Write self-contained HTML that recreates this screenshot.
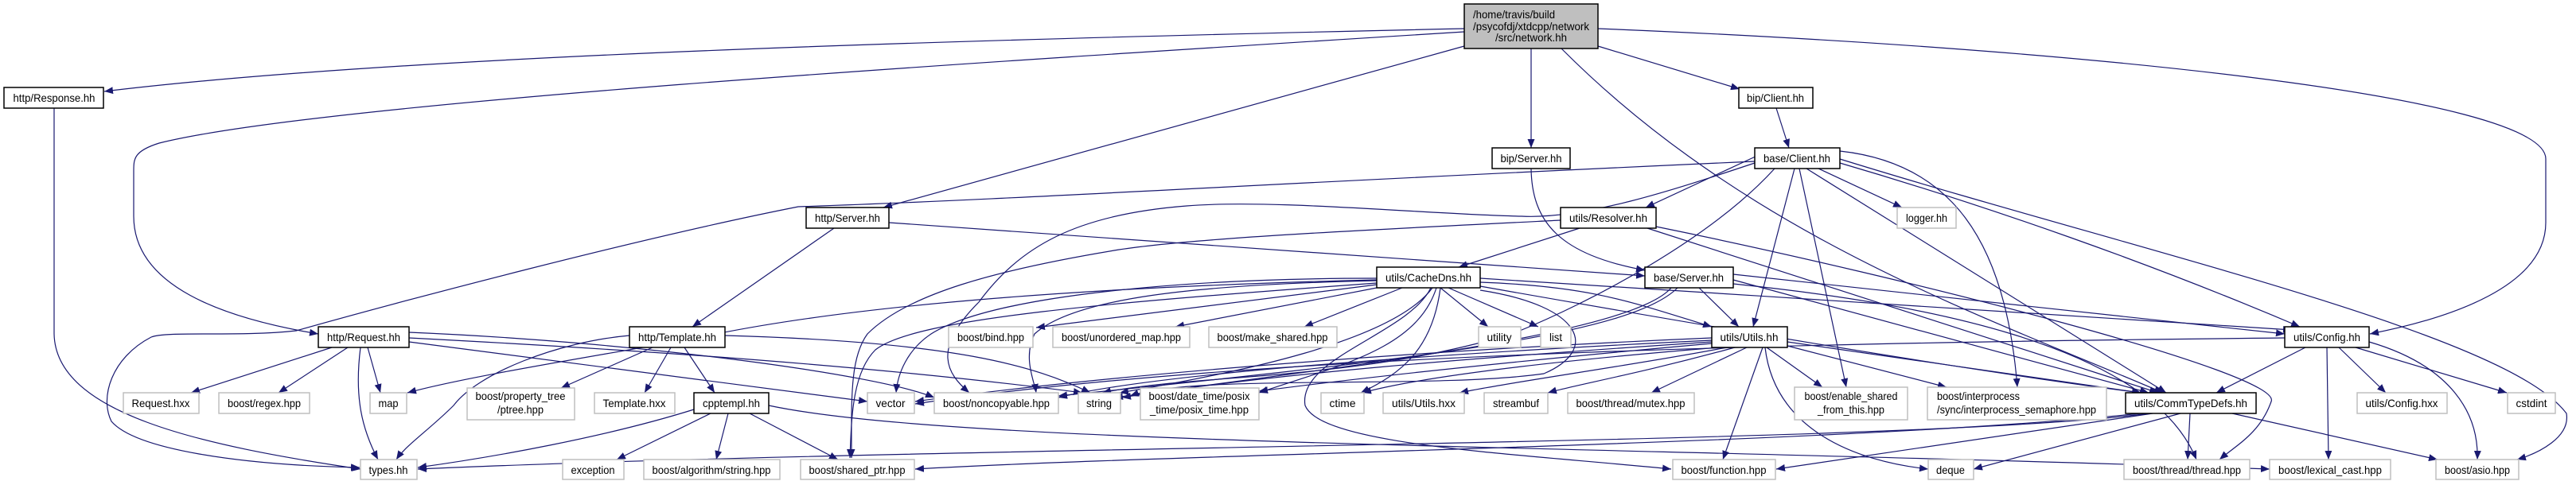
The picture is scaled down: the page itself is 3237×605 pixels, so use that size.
<!DOCTYPE html>
<html><head><meta charset="utf-8"><style>
html,body{margin:0;padding:0;background:#fff;}
svg{display:block;}
text{font-family:"Liberation Sans",sans-serif;font-size:14px;fill:#000;}
.e{fill:none;stroke:#191970;stroke-width:1.2;marker-end:url(#a);}
.b{fill:#fff;stroke:#000;stroke-width:1.5;}
.g{fill:#fff;stroke:#bfbfbf;stroke-width:1.5;}
</style></head><body>
<svg width="3237" height="605" viewBox="0 0 3237 605" xmlns="http://www.w3.org/2000/svg">
<defs><marker id="a" markerUnits="userSpaceOnUse" markerWidth="12" markerHeight="9" refX="11" refY="4.5" orient="auto"><path d="M0,0 L11,4.5 L0,9 z" fill="#191970"/></marker></defs>
<g>
<path class="e" d="M1840,36 C1200,50 500,70 131,115"/>
<path class="e" d="M1840,40 C1200,80 400,130 200,180 C168,190 168,200 168,215 L168,272 C168,360 280,400 400,420"/>
<path class="e" d="M1840,58 L1110,261"/>
<path class="e" d="M1924,61 L1924,186"/>
<path class="e" d="M2008,58 L2186,112"/>
<path class="e" d="M2008,36 C2600,60 3200,120 3199,200 L3199,280 C3199,360 3080,400 2978,420"/>
<path class="e" d="M1962,61 C2200,300 2500,400 2718,494"/>
<path class="e" d="M68,136 L68,420 C70,520 250,560 453,590"/>
<path class="e" d="M1048,287 L870,411"/>
<path class="e" d="M1117,280 L2067,347"/>
<path class="e" d="M1924,212 C1925,280 1960,320 2067,340"/>
<path class="e" d="M2232,136 L2248,186"/>
<path class="e" d="M2205,203 C1600,230 1300,250 1003,260 C800,300 500,380 372,416 C300,424 210,416 190,424 C140,450 125,500 140,530 C170,565 300,585 452,588"/>
<path class="e" d="M2205,205 C2100,240 1990,276 1912,272 C1800,270 1600,250 1491,259 C1350,270 1281,311 1230,380 C1170,440 1190,470 1218,494"/>
<path class="e" d="M2210,195 L2068,261"/>
<path class="e" d="M2255,212 L2203,411"/>
<path class="e" d="M2261,212 L2320,487"/>
<path class="e" d="M2285,212 L2390,261"/>
<path class="e" d="M2270,212 L2722,494"/>
<path class="e" d="M2312,205 C2500,260 2700,330 2890,411"/>
<path class="e" d="M2312,200 C2700,320 3150,420 3225,520 C3230,550 3190,570 3163,578"/>
<path class="e" d="M2312,190 C2450,205 2520,300 2535,487"/>
<path class="e" d="M2230,212 C2150,300 2000,380 1900,420 C1700,480 1500,470 1385,494"/>
<path class="e" d="M2081,285 C2400,350 2870,470 2854,505 C2840,545 2810,560 2789,578"/>
<path class="e" d="M1985,287 L1833,336"/>
<path class="e" d="M2070,287 L2712,494"/>
<path class="e" d="M1961,277 C1700,290 1491,300 1400,315 C1250,340 1140,370 1090,420 C1068,450 1070,500 1070,576"/>
<path class="e" d="M1730,358 L1302,412"/>
<path class="e" d="M1730,362 L1477,411"/>
<path class="e" d="M1762,362 L1639,411"/>
<path class="e" d="M1810,362 L1870,411"/>
<path class="e" d="M1820,362 L1933,411"/>
<path class="e" d="M1730,352 C1400,360 1100,380 900,420 C800,440 600,470 512,494"/>
<path class="e" d="M1730,350 C1500,350 1250,370 1170,420 C1140,440 1128,470 1126,494"/>
<path class="e" d="M1730,353 C1500,358 1350,375 1300,420 C1285,450 1300,480 1302,494"/>
<path class="e" d="M1800,362 C1750,430 1550,470 1407,494"/>
<path class="e" d="M1805,362 C1780,440 1680,460 1582,494"/>
<path class="e" d="M1810,362 C1800,440 1760,470 1710,494"/>
<path class="e" d="M1730,356 C1400,380 1150,400 1100,440 C1070,470 1070,530 1068,576"/>
<path class="e" d="M1798,362 C1770,420 1630,450 1640,510 C1660,560 1900,570 2100,590"/>
<path class="e" d="M1860,355 C2000,360 2050,380 2151,411"/>
<path class="e" d="M1860,360 C2200,420 2500,470 2690,494"/>
<path class="e" d="M1860,350 C2200,370 2600,400 2880,415"/>
<path class="e" d="M1860,365 C1990,385 2010,440 1940,470 C1800,490 1500,470 1420,498"/>
<path class="e" d="M2135,362 L2185,411"/>
<path class="e" d="M2178,345 L2871,420"/>
<path class="e" d="M2178,352 L2700,494"/>
<path class="e" d="M2108,362 C2050,420 1800,450 1330,498"/>
<path class="e" d="M2100,362 C2050,420 1700,460 1400,500"/>
<path class="e" d="M2178,357 C2400,380 2700,430 2760,578"/>
<path class="e" d="M2151,425 C1800,440 1400,470 1150,505"/>
<path class="e" d="M2151,428 C1800,445 1450,470 1330,500"/>
<path class="e" d="M2151,430 C1850,450 1600,470 1410,500"/>
<path class="e" d="M2151,432 C1950,450 1750,470 1582,492"/>
<path class="e" d="M2160,437 C2000,450 1800,470 1712,494"/>
<path class="e" d="M2170,437 C2050,460 1900,480 1834,494"/>
<path class="e" d="M2180,437 C2060,470 1980,484 1945,494"/>
<path class="e" d="M2195,437 L2075,494"/>
<path class="e" d="M2215,437 L2165,578"/>
<path class="e" d="M2218,437 C2230,540 2330,580 2423,590"/>
<path class="e" d="M2220,437 L2290,487"/>
<path class="e" d="M2246,435 L2446,487"/>
<path class="e" d="M2246,430 L2690,494"/>
<path class="e" d="M2897,437 L2785,494"/>
<path class="e" d="M2939,437 L2998,494"/>
<path class="e" d="M2960,437 L3150,494"/>
<path class="e" d="M2924,437 L2926,578"/>
<path class="e" d="M2977,430 C3080,460 3115,520 3113,578"/>
<path class="e" d="M2871,425 C2400,430 1600,440 1150,508"/>
<path class="e" d="M2752,520 L2749,578"/>
<path class="e" d="M2805,520 L3063,578"/>
<path class="e" d="M2740,520 L2480,590"/>
<path class="e" d="M2705,520 L2232,590"/>
<path class="e" d="M2700,520 C2400,560 1200,560 525,590"/>
<path class="e" d="M2690,520 C2300,560 1500,570 1150,590"/>
<path class="e" d="M417,437 L240,494"/>
<path class="e" d="M437,437 L350,494"/>
<path class="e" d="M462,437 L478,494"/>
<path class="e" d="M453,437 C445,500 455,540 475,578"/>
<path class="e" d="M514,430 L1090,505"/>
<path class="e" d="M514,425 C800,440 1100,460 1360,494"/>
<path class="e" d="M514,418 C800,430 1100,470 1174,500"/>
<path class="e" d="M791,422 C700,430 600,470 570,510 C540,540 510,560 498,578"/>
<path class="e" d="M820,437 L705,488"/>
<path class="e" d="M843,437 L810,494"/>
<path class="e" d="M860,437 L898,494"/>
<path class="e" d="M911,422 C1200,430 1300,460 1370,494"/>
<path class="e" d="M872,515 C760,550 620,575 525,588"/>
<path class="e" d="M893,520 L775,578"/>
<path class="e" d="M915,520 L900,578"/>
<path class="e" d="M942,520 L1053,578"/>
<path class="e" d="M966,510 C1200,560 2000,560 2852,590"/>
</g>
<g>
<rect x="1840" y="5" width="168" height="56" fill="#bfbfbf" stroke="#000" stroke-width="1.5"/>
<text x="1851" y="23" textLength="103" lengthAdjust="spacingAndGlyphs">/home/travis/build</text>
<text x="1851" y="38" textLength="146" lengthAdjust="spacingAndGlyphs">/psycofdj/xtdcpp/network</text>
<text x="1879" y="52" textLength="90" lengthAdjust="spacingAndGlyphs">/src/network.hh</text>
</g>
<g text-anchor="middle">
<rect class="b" x="5" y="110" width="125" height="26"/><text x="68" y="128" textLength="103" lengthAdjust="spacingAndGlyphs">http/Response.hh</text>
<rect class="b" x="1875" y="186" width="98" height="26"/><text x="1924" y="204" textLength="77" lengthAdjust="spacingAndGlyphs">bip/Server.hh</text>
<rect class="b" x="2185" y="110" width="93" height="26"/><text x="2231" y="128" textLength="72" lengthAdjust="spacingAndGlyphs">bip/Client.hh</text>
<rect class="b" x="2205" y="186" width="107" height="26"/><text x="2258" y="204" textLength="84" lengthAdjust="spacingAndGlyphs">base/Client.hh</text>
<rect class="b" x="1013" y="261" width="104" height="26"/><text x="1065" y="279" textLength="82" lengthAdjust="spacingAndGlyphs">http/Server.hh</text>
<rect class="b" x="1961" y="261" width="120" height="26"/><text x="2021" y="279" textLength="98" lengthAdjust="spacingAndGlyphs">utils/Resolver.hh</text>
<rect class="g" x="2384" y="261" width="74" height="26"/><text x="2421" y="279" textLength="52" lengthAdjust="spacingAndGlyphs">logger.hh</text>
<rect class="b" x="1730" y="336" width="130" height="26"/><text x="1795" y="354" textLength="108" lengthAdjust="spacingAndGlyphs">utils/CacheDns.hh</text>
<rect class="b" x="2067" y="336" width="111" height="26"/><text x="2122" y="354" textLength="88" lengthAdjust="spacingAndGlyphs">base/Server.hh</text>
<rect class="b" x="400" y="411" width="114" height="26"/><text x="457" y="429" textLength="92" lengthAdjust="spacingAndGlyphs">http/Request.hh</text>
<rect class="b" x="791" y="411" width="120" height="26"/><text x="851" y="429" textLength="98" lengthAdjust="spacingAndGlyphs">http/Template.hh</text>
<rect class="g" x="1192" y="411" width="106" height="26"/><text x="1245" y="429" textLength="84" lengthAdjust="spacingAndGlyphs">boost/bind.hpp</text>
<rect class="g" x="1323" y="411" width="172" height="26"/><text x="1409" y="429" textLength="150" lengthAdjust="spacingAndGlyphs">boost/unordered_map.hpp</text>
<rect class="g" x="1519" y="411" width="161" height="26"/><text x="1599" y="429" textLength="139" lengthAdjust="spacingAndGlyphs">boost/make_shared.hpp</text>
<rect class="g" x="1858" y="411" width="53" height="26"/><text x="1884" y="429" textLength="31" lengthAdjust="spacingAndGlyphs">utility</text>
<rect class="g" x="1936" y="411" width="38" height="26"/><text x="1955" y="429" textLength="16" lengthAdjust="spacingAndGlyphs">list</text>
<rect class="b" x="2151" y="411" width="95" height="26"/><text x="2198" y="429" textLength="73" lengthAdjust="spacingAndGlyphs">utils/Utils.hh</text>
<rect class="b" x="2871" y="411" width="106" height="26"/><text x="2924" y="429" textLength="84" lengthAdjust="spacingAndGlyphs">utils/Config.hh</text>
<rect class="g" x="155" y="494" width="95" height="26"/><text x="202" y="512" textLength="73" lengthAdjust="spacingAndGlyphs">Request.hxx</text>
<rect class="g" x="275" y="494" width="114" height="26"/><text x="332" y="512" textLength="92" lengthAdjust="spacingAndGlyphs">boost/regex.hpp</text>
<rect class="g" x="465" y="494" width="46" height="26"/><text x="488" y="512" textLength="25" lengthAdjust="spacingAndGlyphs">map</text>
<rect class="g" x="747" y="494" width="101" height="26"/><text x="797" y="512" textLength="79" lengthAdjust="spacingAndGlyphs">Template.hxx</text>
<rect class="b" x="872" y="494" width="94" height="26"/><text x="919" y="512" textLength="72" lengthAdjust="spacingAndGlyphs">cpptempl.hh</text>
<rect class="g" x="1090" y="494" width="59" height="26"/><text x="1119" y="512" textLength="37" lengthAdjust="spacingAndGlyphs">vector</text>
<rect class="g" x="1174" y="494" width="156" height="26"/><text x="1252" y="512" textLength="134" lengthAdjust="spacingAndGlyphs">boost/noncopyable.hpp</text>
<rect class="g" x="1355" y="494" width="53" height="26"/><text x="1381" y="512" textLength="32" lengthAdjust="spacingAndGlyphs">string</text>
<rect class="g" x="1660" y="494" width="54" height="26"/><text x="1687" y="512" textLength="33" lengthAdjust="spacingAndGlyphs">ctime</text>
<rect class="g" x="1738" y="494" width="102" height="26"/><text x="1789" y="512" textLength="80" lengthAdjust="spacingAndGlyphs">utils/Utils.hxx</text>
<rect class="g" x="1865" y="494" width="80" height="26"/><text x="1905" y="512" textLength="58" lengthAdjust="spacingAndGlyphs">streambuf</text>
<rect class="g" x="1970" y="494" width="159" height="26"/><text x="2049" y="512" textLength="137" lengthAdjust="spacingAndGlyphs">boost/thread/mutex.hpp</text>
<rect class="b" x="2671" y="494" width="164" height="26"/><text x="2753" y="512" textLength="142" lengthAdjust="spacingAndGlyphs">utils/CommTypeDefs.hh</text>
<rect class="g" x="2962" y="494" width="113" height="26"/><text x="3018" y="512" textLength="91" lengthAdjust="spacingAndGlyphs">utils/Config.hxx</text>
<rect class="g" x="3151" y="494" width="60" height="26"/><text x="3181" y="512" textLength="39" lengthAdjust="spacingAndGlyphs">cstdint</text>
<rect class="g" x="587" y="488" width="135" height="40"/><text x="654" y="503" textLength="113" lengthAdjust="spacingAndGlyphs">boost/property_tree</text><text x="654" y="520" textLength="58" lengthAdjust="spacingAndGlyphs">/ptree.hpp</text>
<rect class="g" x="1433" y="488" width="149" height="40"/><text x="1507" y="503" textLength="127" lengthAdjust="spacingAndGlyphs">boost/date_time/posix</text><text x="1507" y="520" textLength="124" lengthAdjust="spacingAndGlyphs">_time/posix_time.hpp</text>
<rect class="g" x="2255" y="487" width="142" height="41"/><text x="2326" y="503" textLength="117" lengthAdjust="spacingAndGlyphs">boost/enable_shared</text><text x="2326" y="520" textLength="84" lengthAdjust="spacingAndGlyphs">_from_this.hpp</text>
<rect class="g" x="2422" y="487" width="225" height="41"/><text x="2434" y="503" text-anchor="start" textLength="104" lengthAdjust="spacingAndGlyphs">boost/interprocess</text><text x="2434" y="520" text-anchor="start" textLength="200" lengthAdjust="spacingAndGlyphs">/sync/interprocess_semaphore.hpp</text>
<rect class="g" x="453" y="578" width="71" height="25"/><text x="488" y="596" textLength="49" lengthAdjust="spacingAndGlyphs">types.hh</text>
<rect class="g" x="707" y="578" width="77" height="25"/><text x="745" y="596" textLength="55" lengthAdjust="spacingAndGlyphs">exception</text>
<rect class="g" x="809" y="578" width="171" height="25"/><text x="894" y="596" textLength="149" lengthAdjust="spacingAndGlyphs">boost/algorithm/string.hpp</text>
<rect class="g" x="1006" y="578" width="143" height="25"/><text x="1077" y="596" textLength="121" lengthAdjust="spacingAndGlyphs">boost/shared_ptr.hpp</text>
<rect class="g" x="2102" y="578" width="129" height="25"/><text x="2166" y="596" textLength="107" lengthAdjust="spacingAndGlyphs">boost/function.hpp</text>
<rect class="g" x="2423" y="578" width="57" height="25"/><text x="2451" y="596" textLength="36" lengthAdjust="spacingAndGlyphs">deque</text>
<rect class="g" x="2669" y="578" width="158" height="25"/><text x="2748" y="596" textLength="136" lengthAdjust="spacingAndGlyphs">boost/thread/thread.hpp</text>
<rect class="g" x="2852" y="578" width="152" height="25"/><text x="2928" y="596" textLength="130" lengthAdjust="spacingAndGlyphs">boost/lexical_cast.hpp</text>
<rect class="g" x="3061" y="578" width="104" height="25"/><text x="3113" y="596" textLength="82" lengthAdjust="spacingAndGlyphs">boost/asio.hpp</text>
</g>
</svg>
</body></html>
